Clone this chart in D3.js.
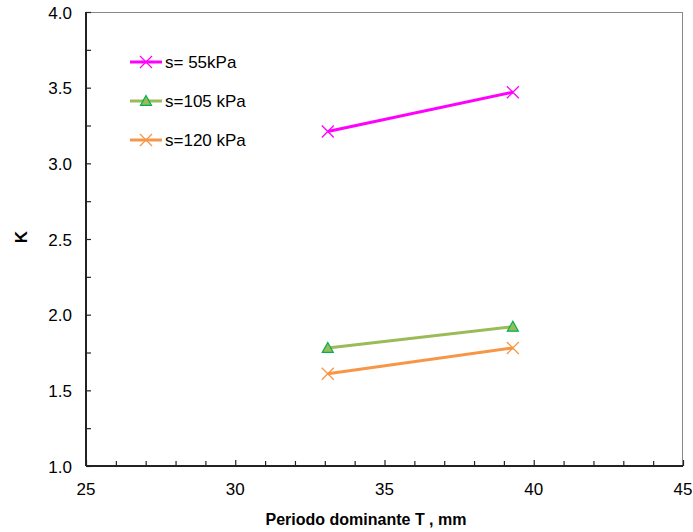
<!DOCTYPE html>
<html><head><meta charset="utf-8">
<script src="https://cdn.jsdelivr.net/npm/d3@7"></script>
<style>body{margin:0;background:#fff}svg{display:block}text{font-family:Arial,"Liberation Sans",sans-serif}</style>
</head><body>
<svg id="c" width="693" height="532"></svg>
<script>
const seriesNames = ["s= 55kPa", "s=105 kPa", "s=120 kPa"];
const xValues = [33.1, 39.3];
const s55 = [3.21, 3.47];
const s105 = [1.78, 1.92];
const s120 = [1.61, 1.78];
const xTicks = [25, 30, 35, 40, 45];
const yTicks = [1.0, 1.5, 2.0, 2.5, 3.0, 3.5, 4.0];

const svg = d3.select("#c");
const L = 86, R = 683, T = 12, B = 466;
const x = d3.scaleLinear().domain([25, 45]).range([L, R]);
const y = d3.scaleLinear().domain([1, 4]).range([B, T]);

// border top/right
svg.append("line").attr("x1", L).attr("x2", R).attr("y1", T + 0.5).attr("y2", T + 0.5).attr("stroke", "#888").attr("stroke-width", 1);
svg.append("line").attr("x1", R - 0.5).attr("x2", R - 0.5).attr("y1", T).attr("y2", B).attr("stroke", "#888").attr("stroke-width", 1);

// x axis
const gx = svg.append("g").attr("transform", `translate(0,${B})`);
gx.call(d3.axisBottom(x).tickValues(d3.range(25, 45.01, 1)).tickSize(-5).tickFormat(""));
gx.select(".domain").attr("stroke", "#222").attr("stroke-width", 2).attr("d", `M${L},0H${R}`);
gx.selectAll(".tick line").attr("stroke", "#222").attr("stroke-width", 1.2);
gx.selectAll(".tick line").filter(d => d % 5 === 0).attr("y2", -6);
gx.selectAll(".lab").data(xTicks).enter().append("text")
  .attr("x", d => x(d)).attr("y", 29).attr("text-anchor", "middle")
  .attr("font-size", 17).attr("fill", "#000").text(d => d);

// y axis
const gy = svg.append("g").attr("transform", `translate(${L},0)`);
gy.call(d3.axisLeft(y).tickValues(d3.range(1, 4.001, 0.25)).tickSize(-5).tickFormat(""));
gy.select(".domain").attr("stroke", "#222").attr("stroke-width", 2).attr("d", `M0,${T}V${B}`);
gy.selectAll(".tick line").attr("stroke", "#222").attr("stroke-width", 1.2);
gy.selectAll(".lab").data(yTicks).enter().append("text")
  .attr("x", -14).attr("y", d => y(d) + 6.5).attr("text-anchor", "end")
  .attr("font-size", 17).attr("fill", "#000").text(d => d.toFixed(1));

// titles
svg.append("text").attr("x", 366).attr("y", 525).attr("text-anchor", "middle")
  .attr("font-size", 16).attr("font-weight", "bold").text("Periodo dominante T , mm");
svg.append("text").attr("transform", "translate(27,237) rotate(-90)").attr("text-anchor", "middle")
  .attr("font-size", 17).attr("font-weight", "bold").text("K");

const series = [
  {name: seriesNames[0], vals: s55, color: "#FF00FF", marker: "x", mcolor: "#FF00FF"},
  {name: seriesNames[1], vals: s105, color: "#9BBB59", marker: "tri", mcolor: "#00B050"},
  {name: seriesNames[2], vals: s120, color: "#F79646", marker: "x", mcolor: "#F79646"}
];

function drawMarker(g, s, cx, cy) {
  if (s.marker === "x") {
    const r = 6;
    g.append("path").attr("d", `M${cx-r},${cy-r}L${cx+r},${cy+r}M${cx-r},${cy+r}L${cx+r},${cy-r}`)
      .attr("stroke", s.mcolor).attr("stroke-width", 1.3).attr("fill", "none");
  } else {
    const r = 5.5;
    g.append("path").attr("d", `M${cx},${cy-r}L${cx+r},${cy+r*0.8}L${cx-r},${cy+r*0.8}Z`)
      .attr("fill", "#9BBB59").attr("stroke", s.mcolor).attr("stroke-width", 1.2);
  }
}

const line = d3.line().x((d, i) => x(xValues[i])).y(d => y(d));
series.forEach(s => {
  svg.append("path").datum(s.vals).attr("d", line).attr("stroke", s.color).attr("stroke-width", 3).attr("fill", "none");
  const g = svg.append("g");
  s.vals.forEach((v, i) => drawMarker(g, s, x(xValues[i]), y(v)));
});

// legend
const legY = [62, 101, 140];
series.forEach((s, i) => {
  const g = svg.append("g");
  g.append("line").attr("x1", 130).attr("x2", 162).attr("y1", legY[i]).attr("y2", legY[i]).attr("stroke", s.color).attr("stroke-width", 3);
  drawMarker(g, s, 146, legY[i]);
  g.append("text").attr("x", 165).attr("y", legY[i] + 5.5).attr("font-size", 17).attr("fill", "#000").text(s.name);
});
</script>
</body></html>
